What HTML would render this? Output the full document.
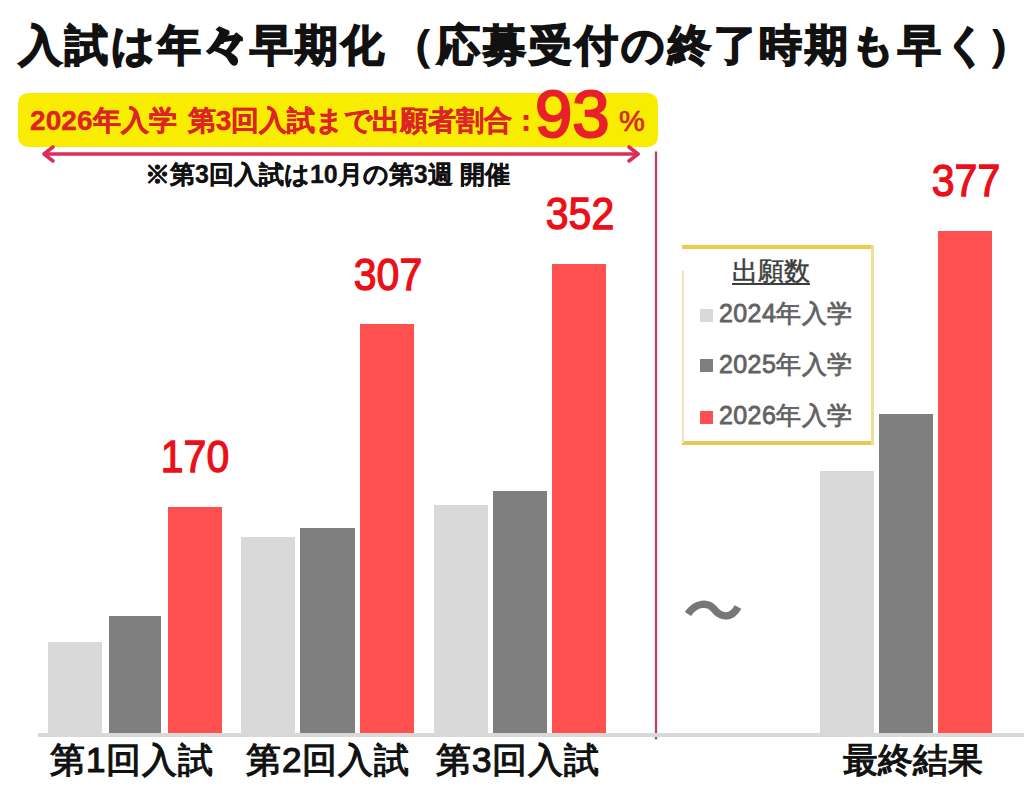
<!DOCTYPE html>
<html lang="ja">
<head>
<meta charset="utf-8">
<style>
html,body{margin:0;padding:0;background:#fff;}
body{width:1024px;height:791px;position:relative;overflow:hidden;font-family:"Liberation Sans",sans-serif;}
.a{position:absolute;white-space:nowrap;}
.bar{position:absolute;}
.l{background:#d9d9d9;}
.g{background:#7f7f7f;}
.r{background:#ff5050;}
.num{position:absolute;color:#ea0f18;font-size:45px;-webkit-text-stroke:1.3px #ea0f18;line-height:1;white-space:nowrap;text-align:center;width:120px;transform:scaleX(0.91);}
.xl{position:absolute;color:#111;font-size:35px;line-height:1;white-space:nowrap;-webkit-text-stroke:1.2px #111;}
.lg{position:absolute;color:#626262;font-size:25px;line-height:1;white-space:nowrap;-webkit-text-stroke:0.8px #626262;letter-spacing:0.4px;}
.sq{position:absolute;width:13px;height:13px;}
</style>
</head>
<body>
<!-- title -->
<div class="a" id="title" style="left:19px;top:24px;font-size:43px;letter-spacing:2.9px;line-height:1;font-weight:bold;color:#111;-webkit-text-stroke:1.6px #111;">入試は年<span style="display:inline-block;transform:scale(1.3,1.32) translateY(-0.5px)">々</span>早期化<span style="margin-left:4px">（</span>応募受付の終了時期も早く<span style="margin-left:-3px">）</span></div>

<!-- banner -->
<div class="a" style="left:18px;top:93px;width:640px;height:54px;background:#f8ec00;border-radius:10px;"></div>
<div class="a" id="ban" style="left:30px;top:107px;font-size:28px;letter-spacing:0.1px;line-height:1;font-weight:bold;color:#dc2328;-webkit-text-stroke:0.4px #dc2328;">2026年入学<span style="margin-left:3px"> </span><span style="letter-spacing:-0.15px">第3回入試まで出願者割合：</span></div>
<div class="a" id="n93" style="left:535px;top:80px;font-size:67px;line-height:1;color:#e8202a;-webkit-text-stroke:2.2px #e8202a;">93</div>
<div class="a" id="pct" style="left:619px;top:107px;font-size:29px;line-height:1;color:#d42a2a;-webkit-text-stroke:0.7px #d42a2a;">%</div>

<!-- arrow -->
<svg class="a" style="left:0;top:0" width="1024" height="791" viewBox="0 0 1024 791">
  <g stroke="#d8305a" stroke-width="3.6" stroke-linecap="round" stroke-linejoin="round" fill="none">
    <line x1="45" y1="154" x2="638" y2="154"/>
    <polyline points="53,147 44,154 53,161"/>
    <polyline points="629,147 638,154 629,161"/>
  </g>
  <line x1="656" y1="152.5" x2="656" y2="738.5" stroke="#b0466e" stroke-width="2.3" stroke-linecap="round"/>
  <path d="M688,614 C696,602 708,602 714,609 C720,617 731,620 738,607" stroke="#777" stroke-width="7.5" fill="none"/>
</svg>

<!-- note -->
<div class="a" id="note" style="left:145px;top:162px;font-size:25px;line-height:1;font-weight:bold;color:#111;-webkit-text-stroke:0.3px #111;">※第3回入試は10月の第3週 開催</div>

<!-- baseline -->
<div class="a" style="left:38px;top:733px;width:986px;height:3.5px;background:#d9d9d9;"></div>

<!-- bars group 1 -->
<div class="bar l" style="left:48px;top:642px;width:54px;height:94px;"></div>
<div class="bar g" style="left:109px;top:616px;width:52px;height:117px;"></div>
<div class="bar r" style="left:168px;top:507px;width:54px;height:226px;"></div>
<!-- group 2 -->
<div class="bar l" style="left:241px;top:537px;width:54px;height:199px;"></div>
<div class="bar g" style="left:300px;top:528px;width:55px;height:205px;"></div>
<div class="bar r" style="left:360px;top:324px;width:54px;height:409px;"></div>
<!-- group 3 -->
<div class="bar l" style="left:434px;top:505px;width:54px;height:231px;"></div>
<div class="bar g" style="left:493px;top:491px;width:54px;height:242px;"></div>
<div class="bar r" style="left:552px;top:264px;width:54px;height:469px;"></div>
<!-- final -->
<div class="bar l" style="left:820px;top:471px;width:54px;height:265px;"></div>
<div class="bar g" style="left:879px;top:414px;width:54px;height:319px;"></div>
<div class="bar r" style="left:938px;top:231px;width:54px;height:502px;"></div>

<!-- numbers -->
<div class="num" style="left:135px;top:434px;">170</div>
<div class="num" style="left:328px;top:252px;">307</div>
<div class="num" style="left:520px;top:191px;">352</div>
<div class="num" style="left:906px;top:158px;">377</div>

<!-- x labels -->
<div class="xl" style="left:50px;top:742px;letter-spacing:1px;">第1回入試</div>
<div class="xl" style="left:246px;top:742px;letter-spacing:1px;">第2回入試</div>
<div class="xl" style="left:436px;top:742px;letter-spacing:1px;">第3回入試</div>
<div class="xl" style="left:843px;top:742px;">最終結果</div>

<!-- legend -->
<div class="a" style="left:682px;top:245px;width:192px;height:4px;background:#efca4c;"></div>
<div class="a" style="left:682px;top:441px;width:192px;height:4px;background:#e9c752;"></div>
<div class="a" style="left:871px;top:245px;width:2.5px;height:200px;background:#ede08e;"></div>
<div class="a" style="left:682px;top:271px;width:2px;height:172px;background:#ece6b4;"></div>
<div class="a" style="left:732px;top:258px;font-size:26px;line-height:1;color:#3c3c3c;-webkit-text-stroke:0.5px #3c3c3c;text-decoration:underline;text-decoration-thickness:2px;text-underline-offset:3px;">出願数</div>
<div class="sq l" style="left:700px;top:309px;"></div>
<div class="lg" style="left:719px;top:301px;">2024年入学</div>
<div class="sq g" style="left:700px;top:359px;"></div>
<div class="lg" style="left:719px;top:352px;">2025年入学</div>
<div class="sq r" style="left:700px;top:411px;"></div>
<div class="lg" style="left:719px;top:403px;">2026年入学</div>
</body>
</html>
